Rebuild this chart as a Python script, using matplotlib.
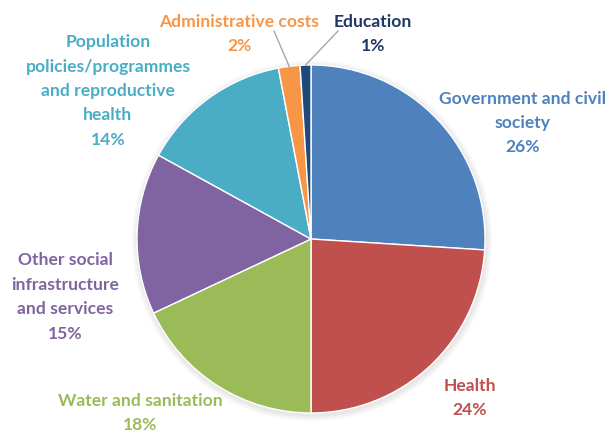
import numpy as np
import matplotlib.pyplot as plt

# Sector shares of aid (%)
sectors = ["Government and civil\nsociety", "Health", "Water and sanitation",
           "Other social\ninfrastructure\nand services",
           "Population\npolicies/programmes\nand reproductive\nhealth",
           "Administrative costs", "Education"]
shares = [26, 24, 18, 15, 14, 2, 1]
colors = ["#4F81BD", "#C0504D", "#9BBB59", "#8064A2", "#4BACC6", "#F79646", "#1F497D"]
text_colors = ["#4F81BD", "#C0504D", "#9BBB59", "#8064A2", "#4BACC6", "#F79646", "#1F3864"]

# label centres in pixel space (x, y from top)
label_pos = [(523, 123), (470, 398), (140, 413), (65, 297), (108, 91), (239, 34), (373, 34)]

W, H = 607, 434
fig = plt.figure(figsize=(W / 100, H / 100), dpi=100)
ax = fig.add_axes([0, 0, 1, 1])

cx, cy, r = 311, H - 239, 174

# soft shadow behind the pie
for i in range(8):
    ax.add_patch(plt.Circle((cx + 1, cy - 2), r + 1 + i * 0.8, color="black",
                            alpha=0.012, zorder=0, lw=0))

wedges, _ = ax.pie(shares, colors=colors, startangle=90, counterclock=False,
                   center=(cx, cy), radius=r,
                   wedgeprops=dict(edgecolor="white", linewidth=1.0))

# pie() resets the limits, so set the pixel frame afterwards
ax.set_xlim(0, W)
ax.set_ylim(0, H)
ax.set_aspect("equal")
ax.axis("off")

for txt, val, col, (lx, ly) in zip(sectors, shares, text_colors, label_pos):
    ax.text(lx, H - ly, f"{txt}\n{val}%", color=col, ha="center", va="center",
            fontsize=12.6, fontweight="bold", family="Lato", linespacing=1.65, zorder=5)

# leader lines for the two thin slices
for w, start in zip(wedges[5:], [(274, 31), (338, 31)]):
    ang = np.deg2rad((w.theta1 + w.theta2) / 2)
    ex, ey = cx + r * np.cos(ang), cy + r * np.sin(ang)
    ax.plot([start[0], ex], [H - start[1], ey], color="#A6A6A6", lw=1, zorder=4)

fig.savefig("out.png", dpi=100)
